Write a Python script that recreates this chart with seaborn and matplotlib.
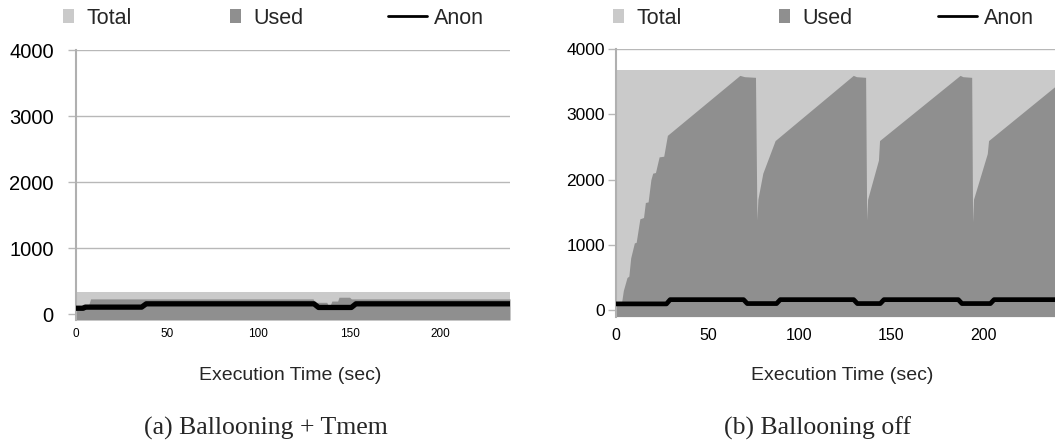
import matplotlib
matplotlib.use("Agg")
import matplotlib.pyplot as plt
import seaborn as sns
from matplotlib.patches import Patch
from matplotlib.lines import Line2D

# ---------------- data ----------------
# (a) Ballooning + Tmem
a_total_t = [0, 238]
a_total = [330, 330]
a_used_t = [0, 6.5, 8, 130, 131, 137.5, 138.2, 139.5, 140.3, 143.5, 144.2, 150, 151, 238]
a_used = [100, 100, 230, 230, 178, 178, 140, 140, 197, 197, 255, 255, 230, 230]
a_anon_t = [0, 4, 5, 36, 38.5, 130.5, 133, 151, 153.5, 238]
a_anon = [88, 88, 105, 105, 155, 155, 100, 100, 155, 155]

# (b) Ballooning off
b_total_t = [0, 239.2]
b_total = [3690, 3690]
b_used_t = [0, 3, 4, 6, 7, 8, 10, 11, 13, 15, 16, 17.5, 19, 20, 21.5, 23.5, 26, 28,
            67.5, 70, 76, 76.8, 77.3, 80, 86.7,
            129.3, 131, 136, 136.6, 137.1, 143, 143.6,
            187.5, 189, 193.8, 194.3, 194.8, 202.3, 203, 239.2]
b_used = [100, 110, 300, 500, 520, 800, 1030, 1040, 1400, 1420, 1650, 1660, 2000, 2100, 2110, 2350, 2360, 2680,
          3600, 3580, 3570, 1380, 1700, 2100, 2600,
          3600, 3580, 3570, 1380, 1700, 2300, 2600,
          3600, 3580, 3570, 1350, 1700, 2400, 2600, 3430]
b_anon_t = [0, 27.5, 29.5, 69.5, 71.5, 87.5, 89.5, 129.5, 131.5, 144, 146, 186.5, 188.5, 204, 206, 239.2]
b_anon = [95, 95, 160, 160, 100, 100, 160, 160, 100, 100, 160, 160, 100, 100, 160, 160]

y_ticks = [0, 1000, 2000, 3000, 4000]
x_ticks = [0, 50, 100, 150, 200]
series_labels = ["Total", "Used", "Anon"]
x_title = "Execution Time (sec)"
captions = ["(a) Ballooning + Tmem", "(b) Ballooning off"]

# ---------------- style ----------------
sns.set_theme(style="white")
plt.rcParams['font.family'] = ['Liberation Sans', 'DejaVu Sans']

TOTAL_C = '#cacaca'
USED_C = '#8f8f8f'
ANON_C = 'black'
GRID_C = '#b8b8b8'

W, H = 1055, 443
fig = plt.figure(figsize=(W / 100, H / 100), dpi=100)

ax_a = fig.add_axes([76 / W, 1 - 320 / H, 434 / W, 270 / H])
ax_b = fig.add_axes([616 / W, 1 - 316.6 / H, 439 / W, 267.3 / H])


def draw(ax, tt, tv, ut, uv, at, av, ylo, xhi, anon_lw, ytick_fs, xtick_fs, ypad, xpad):
    ax.set_axisbelow(True)
    ax.fill_between(tt, ylo, tv, color=TOTAL_C, lw=0, zorder=1)
    ax.fill_between(ut, ylo, uv, color=USED_C, lw=0, zorder=2)
    sns.lineplot(x=at, y=av, ax=ax, color=ANON_C, lw=anon_lw, sort=False,
                 estimator=None, legend=False, zorder=3)
    ax.set_xlim(0, xhi)
    ax.set_ylim(ylo, 4000)
    ax.set_yticks(y_ticks)
    ax.set_xticks(x_ticks)
    ax.set_yticklabels([str(v) for v in y_ticks], fontsize=ytick_fs, color='black')
    ax.set_xticklabels([str(v) for v in x_ticks], fontsize=xtick_fs, color='black')
    ax.yaxis.grid(True, color=GRID_C, lw=1)
    ax.xaxis.grid(False)
    for s in ['top', 'right', 'bottom']:
        ax.spines[s].set_visible(False)
    ax.spines['left'].set_color('#b0b0b0')
    ax.spines['left'].set_linewidth(1.5)
    ax.tick_params(axis='y', left=True, length=6, width=1, color=GRID_C, pad=ypad)
    ax.tick_params(axis='x', bottom=True, length=0, pad=xpad)
    ax.set_ylabel('')


draw(ax_a, a_total_t, a_total, a_used_t, a_used, a_anon_t, a_anon,
     -90, 238, 3.8, 14.5, 8.5, 10, 6)
draw(ax_b, b_total_t, b_total, b_used_t, b_used, b_anon_t, b_anon,
     -100, 239.2, 3.4, 12.5, 11.5, 2, 8)

# x axis titles
ax_a.set_xlabel(x_title, fontsize=14)
ax_a.xaxis.set_label_coords((290 - 76) / 434, (320 - 375) / 270)
ax_a.xaxis.label.set_va('center')
ax_b.set_xlabel(x_title, fontsize=14)
ax_b.xaxis.set_label_coords((842 - 616) / 439, (316.6 - 375) / 267.3)
ax_b.xaxis.label.set_va('center')

# legends (one per entry so the positions match)
LEG_FS = 15.5


def leg(x, y, handle, label, hl, hh, tp):
    lg = fig.legend(handles=[handle], labels=[label], loc='center left',
                    bbox_to_anchor=(x / W, 1 - y / H), frameon=False,
                    borderpad=0, borderaxespad=0, handlelength=hl,
                    handleheight=hh, handletextpad=tp, fontsize=LEG_FS)
    return lg


total_h = Patch(facecolor=TOTAL_C, edgecolor='none')
used_h = Patch(facecolor=USED_C, edgecolor='none')
anon_h = Line2D([], [], color=ANON_C, lw=2)

for (xt, xu, xa) in [(63, 230, 388), (613, 779, 938)]:
    leg(xt, 18, total_h, series_labels[0], 0.5, 0.68, 0.6)
    leg(xu, 18, used_h, series_labels[1], 0.5, 0.68, 0.6)
    leg(xa, 18, anon_h, series_labels[2], 1.8, 0.7, 0.35)

# captions
fig.text(266 / W, 1 - 428 / H, captions[0], family=['Liberation Serif', 'DejaVu Serif'],
         fontsize=18.5, ha='center', va='center')
fig.text(818 / W, 1 - 428 / H, captions[1], family=['Liberation Serif', 'DejaVu Serif'],
         fontsize=18.5, ha='center', va='center')

fig.savefig('out.png', dpi=100)
